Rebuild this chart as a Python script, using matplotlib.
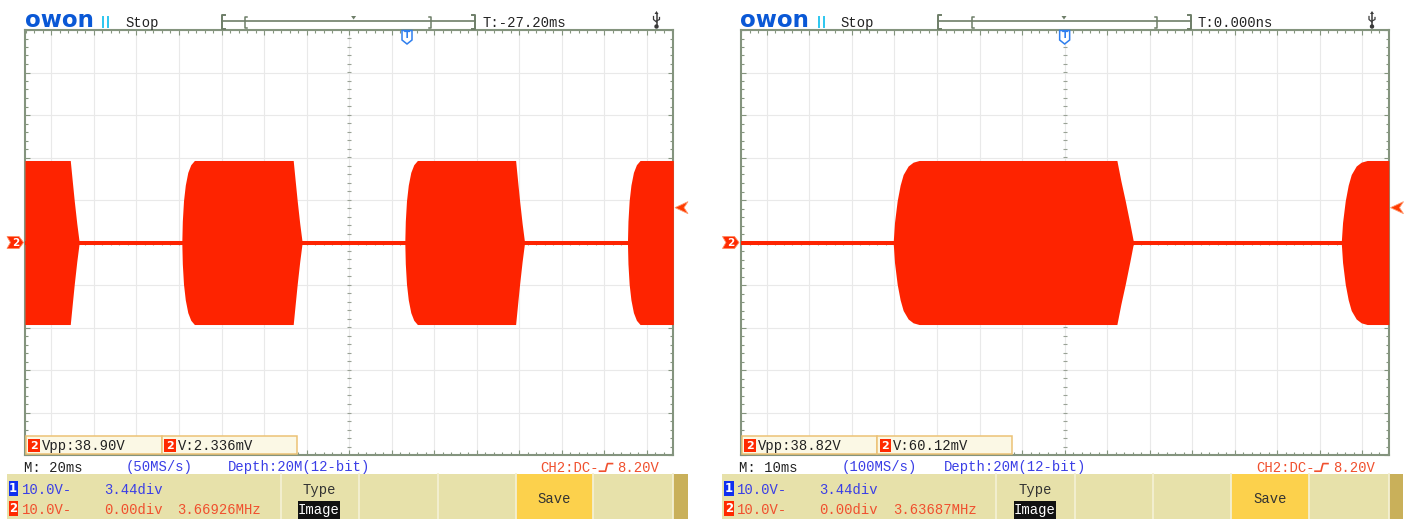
import numpy as np
import matplotlib
matplotlib.use('Agg')
import matplotlib.pyplot as plt
from matplotlib.patches import Rectangle, Polygon, Circle
from matplotlib.ticker import MultipleLocator

# ------------------------------------------------------------------ data
time_base = ['M: 20ms', 'M: 10ms']
sample_rate = ['(50MS/s)', '(100MS/s)']
depth_label = 'Depth:20M(12-bit)'
trig_time = ['T:-27.20ms', 'T:0.000ns']
trig_pos_div = [1.36, 0.0]          # trigger point, divisions from centre
trig_level_V = 8.20
volts_per_div = 10.0
ch2_offset_div = 0.0
ch1_scale = '10.0V-'
ch2_scale = '10.0V-'
ch1_offset = '3.44div'
ch2_offset = '0.00div'
ch2_freq = ['3.66926MHz', '3.63687MHz']
vpp_text = ['Vpp:38.90V', 'Vpp:38.82V']
vmean_text = ['V:2.336mV', 'V:60.12mV']
trig_info = 'CH2:DC-'
trig_level_text = '8.20V'

# burst envelopes (x in divisions, half amplitude in divisions)
left_burst_x = [
    [-7.62, -6.556, -6.509, -6.462, -6.403, -6.345],
    [-3.934, -3.922, -3.894, -3.852, -3.793, -3.723, -3.638,
     -1.315, -1.268, -1.221, -1.162, -1.104],
    [1.308, 1.320, 1.348, 1.390, 1.449, 1.519, 1.604,
     3.913, 3.960, 4.007, 4.066, 4.124],
    [6.542, 6.554, 6.582, 6.624, 6.683, 6.753, 6.838, 7.62],
]
left_burst_amp = [
    [1.93, 1.93, 1.45, 0.98, 0.45, 0.0],
    [0.0, 0.50, 0.98, 1.35, 1.65, 1.83, 1.93, 1.93, 1.45, 0.98, 0.45, 0.0],
    [0.0, 0.50, 0.98, 1.35, 1.65, 1.83, 1.93, 1.93, 1.45, 0.98, 0.45, 0.0],
    [0.0, 0.50, 0.98, 1.35, 1.65, 1.83, 1.93, 1.93],
]
right_burst_x = [
    [-4.031, -4.000, -3.937, -3.867, -3.796, -3.679, -3.562, -3.421,
     1.228, 1.322, 1.425, 1.533, 1.620],
    [6.502, 6.533, 6.596, 6.666, 6.737, 6.854, 6.971, 7.112, 7.62],
]
right_burst_amp = [
    [0.0, 0.47, 0.98, 1.35, 1.60, 1.80, 1.89, 1.93, 1.93, 1.45, 0.98, 0.45, 0.0],
    [0.0, 0.47, 0.98, 1.35, 1.60, 1.80, 1.89, 1.93, 1.93],
]
bursts_x = [left_burst_x, right_burst_x]
bursts_amp = [left_burst_amp, right_burst_amp]

# header window bracket positions (pixels within a screen)
inner_bracket = [(244.6, 431.0), (256.1, 441.5)]
window_dot = [353.6, 348.5]

# ------------------------------------------------------------------ style
W, H, DPI = 1407, 519, 100
MONO = 'Liberation Mono'
TRACE = '#fe2300'
FRAME = '#84947e'
GRID = '#e9e9e9'
BLUE_TXT = '#3a3ee6'
RED_TXT = '#f0502e'
DARK = '#222222'
KHAKI = '#e7e1aa'
SAVE = '#fcd14c'
GOLD = '#c9b05a'

fig = plt.figure(figsize=(W / DPI, H / DPI), dpi=DPI)
fig.patch.set_facecolor('white')
ov = fig.add_axes([0, 0, 1, 1], zorder=5)
ov.set_xlim(0, W)
ov.set_ylim(H, 0)
ov.axis('off')
ov.patch.set_alpha(0)

FR_T, FR_W, FR_H = 30.0, 648.3, 425.0
XR = 7.62
offsets = [0.0, 715.5]
frame_left = [25.0, 740.5]
ppd_x = FR_W / (2 * XR)
ppd_y = FR_H / 10.0


def ypx(div):
    return FR_T + FR_H / 2 - div * ppd_y


for s in range(2):
    dx = offsets[s]
    x0 = frame_left[s]
    ax = fig.add_axes([x0 / W, 1 - (FR_T + FR_H) / H, FR_W / W, FR_H / H], zorder=2)
    ax.set_xlim(-XR, XR)
    ax.set_ylim(-5, 5)
    ax.xaxis.set_major_locator(MultipleLocator(1))
    ax.yaxis.set_major_locator(MultipleLocator(1))
    ax.xaxis.set_minor_locator(MultipleLocator(0.2))
    ax.yaxis.set_minor_locator(MultipleLocator(0.2))
    ax.grid(which='major', color=GRID, lw=0.8, zorder=0)
    ax.tick_params(which='both', direction='in', top=True, right=True,
                   labelbottom=False, labelleft=False, color=FRAME, width=0.8)
    ax.tick_params(which='major', length=3.5)
    ax.tick_params(which='minor', length=2.4)
    for sp in ax.spines.values():
        sp.set_color(FRAME)
        sp.set_linewidth(1.5)
    ax.set_axisbelow(True)
    # centre line dashes
    yy = np.arange(-5, 5.01, 0.2)
    xx = np.arange(-7.6, 7.61, 0.2)
    ax.plot(np.zeros_like(yy), yy, ls='none', marker='_', ms=3.2, mew=0.8,
            color='#9aa296', zorder=1)
    ax.plot(xx, np.zeros_like(xx), ls='none', marker='|', ms=3.2, mew=0.8,
            color='#9aa296', zorder=1)
    # trace
    ax.plot([-XR, XR], [ch2_offset_div, ch2_offset_div], color=TRACE, lw=2.9,
            solid_capstyle='butt', zorder=3)
    for bx, ba in zip(bursts_x[s], bursts_amp[s]):
        bx = np.array(bx)
        ba = np.array(ba)
        ax.fill_between(bx, ch2_offset_div - ba, ch2_offset_div + ba,
                        color=TRACE, lw=0, zorder=3)

    cx = x0 + FR_W / 2
    # ---------------- header
    ov.text(dx + 24.5, 27, 'owon', fontsize=16.5, fontweight='bold',
            color='#0a58d6', family='DejaVu Sans', va='baseline')
    for bxp in (103, 108):
        ov.plot([dx + bxp, dx + bxp], [16.5, 26.5], color='#2cc6ef', lw=1.4)
    ov.text(dx + 125, 26.5, 'Stop', fontsize=10, family=MONO, color=DARK,
            va='baseline')
    bc = '#6e7e68'
    b0, b1 = dx + 222, dx + 475
    ov.plot([b0 + 3, b0, b0, b0 + 3], [15, 15, 29, 29], color=bc, lw=1.4)
    ov.plot([b1 - 3, b1, b1, b1 - 3], [15, 15, 29, 29], color=bc, lw=1.4)
    ov.plot([b0, b1], [20.7, 20.7], color=bc, lw=1.2)
    i0, i1 = dx + inner_bracket[s][0], dx + inner_bracket[s][1]
    ov.plot([i0 + 2, i0, i0, i0 + 2], [16.5, 16.5, 27.5, 27.5], color=bc, lw=1.1)
    ov.plot([i1 - 2, i1, i1, i1 - 2], [16.5, 16.5, 27.5, 27.5], color=bc, lw=1.1)
    dxp = dx + window_dot[s]
    ov.add_patch(Polygon([(dxp - 2.5, 16), (dxp + 2.5, 16), (dxp, 19.5)],
                         closed=True, color=bc, lw=0))
    ov.text(dx + 482.5, 26.7, trig_time[s], fontsize=10, family=MONO,
            color=DARK, va='baseline')
    ux = dx + 656.5
    ov.plot([ux, ux], [13.5, 26], color='#3a3a3a', lw=1.1)
    ov.add_patch(Polygon([(ux - 2, 14), (ux + 2, 14), (ux, 11)], closed=True,
                         color='#3a3a3a', lw=0))
    ov.plot([ux - 3, ux - 3, ux], [16.5, 19.5, 22], color='#3a3a3a', lw=0.9)
    ov.plot([ux + 3, ux + 3, ux], [17.5, 19.5, 21], color='#3a3a3a', lw=0.9)
    ov.add_patch(Circle((ux, 26.5), 1.5, color='#3a3a3a'))

    # ---------------- markers
    tx = cx + trig_pos_div[s] * ppd_x
    ov.add_patch(Polygon([(tx - 5, 30.5), (tx + 5, 30.5), (tx + 5, 40), (tx, 44),
                          (tx - 5, 40)], closed=True, facecolor='white',
                         edgecolor='#2f7fee', lw=1.1))
    ov.text(tx, 36, 'T', fontsize=6.5, fontweight='bold', color='#2f7fee',
            ha='center', va='center', family='DejaVu Sans')
    yc = ypx(ch2_offset_div)
    ov.add_patch(Polygon([(dx + 7, yc - 6), (dx + 19, yc - 6), (dx + 23.5, yc),
                          (dx + 19, yc + 6), (dx + 7, yc + 6), (dx + 10.5, yc)],
                         closed=True, facecolor='#ff2a00', edgecolor='#ff8a60', lw=0.6))
    ov.text(dx + 15.5, yc + 0.3, '2', fontsize=7.5, fontweight='bold', color='white',
            ha='center', va='center', family='DejaVu Sans')
    yt = ypx(trig_level_V / volts_per_div)
    ov.add_patch(Polygon([(dx + 675, yt), (dx + 688, yt - 6), (dx + 684, yt),
                          (dx + 688, yt + 6)], closed=True,
                         facecolor='#ff3a00', edgecolor='#ff9a70', lw=0.6))

    # ---------------- measurement boxes
    for (bx0, bx1, txt) in ((dx + 26, dx + 161.7, vpp_text[s]),
                            (dx + 161.7, dx + 296.7, vmean_text[s])):
        ov.add_patch(Rectangle((bx0, 436), bx1 - bx0, 17.5, facecolor='#fbf8e5',
                               edgecolor='#ecc275', lw=1.1))
        ov.add_patch(Rectangle((bx0 + 2.3, 439.3), 11.7, 12.4, facecolor='#ff2a00',
                               lw=0))
        ov.text(bx0 + 8.2, 445.8, '2', fontsize=8, fontweight='bold', color='white',
                ha='center', va='center', family='DejaVu Sans')
        ov.text(bx0 + 16, 450, txt, fontsize=10, family=MONO, color=DARK,
                va='baseline')

    # ---------------- status line
    ov.text(dx + 23.5, 471.5, time_base[s], fontsize=10, family=MONO, color=DARK,
            va='baseline')
    ov.text(dx + 126, 471.5, sample_rate[s], fontsize=10, family=MONO,
            color=BLUE_TXT, va='baseline')
    ov.text(dx + 228, 471.5, depth_label, fontsize=10, family=MONO,
            color=BLUE_TXT, va='baseline')
    ov.text(dx + 540.5, 471.5, trig_info, fontsize=10, family=MONO, color=RED_TXT,
            va='baseline')
    ov.plot([dx + 599.5, dx + 605.5, dx + 606.5, dx + 607.5, dx + 612.5],
            [471.2, 471.2, 467, 463.6, 463.6], color=RED_TXT, lw=1.2)
    ov.text(dx + 617.3, 471.5, trig_level_text, fontsize=10, family=MONO,
            color=RED_TXT, va='baseline')

    # ---------------- bottom panel
    ov.add_patch(Rectangle((dx + 6.5, 474), 666.8, 45, facecolor=KHAKI, lw=0))
    ov.add_patch(Rectangle((dx + 515.6, 474), 77.6, 45, facecolor=SAVE, lw=0))
    ov.add_patch(Rectangle((dx + 673.3, 474), 14.4, 45, facecolor=GOLD, lw=0))
    for xd in (280.5, 359.4, 437.5, 515.6, 593.3, 673.3):
        ov.plot([dx + xd, dx + xd], [474, 519], color='#f4f0d2', lw=1.3)
    ov.add_patch(Rectangle((dx + 8.5, 480.5), 9.5, 15, facecolor='#1030f0', lw=0))
    ov.text(dx + 13.2, 488.3, '1', fontsize=8.5, fontweight='bold', color='white',
            ha='center', va='center', family='DejaVu Sans')
    ov.add_patch(Rectangle((dx + 8.5, 500.5), 9.5, 15, facecolor='#ff2a00', lw=0))
    ov.text(dx + 13.2, 508.3, '2', fontsize=8.5, fontweight='bold', color='white',
            ha='center', va='center', family='DejaVu Sans')
    ov.text(dx + 21.5, 494, ch1_scale, fontsize=10, family=MONO, color=BLUE_TXT,
            va='baseline')
    ov.text(dx + 104, 494, ch1_offset, fontsize=10, family=MONO, color=BLUE_TXT,
            va='baseline')
    ov.text(dx + 21.5, 514, ch2_scale, fontsize=10, family=MONO, color=RED_TXT,
            va='baseline')
    ov.text(dx + 104, 514, ch2_offset, fontsize=10, family=MONO, color=RED_TXT,
            va='baseline')
    ov.text(dx + 177.5, 514, ch2_freq[s], fontsize=10, family=MONO, color=RED_TXT,
            va='baseline')
    ov.text(dx + 319.5, 494, 'Type', fontsize=10, family=MONO, color='#333333',
            ha='center', va='baseline')
    ov.add_patch(Rectangle((dx + 298, 501), 42, 18, facecolor='#111111', lw=0))
    ov.text(dx + 319, 514, 'Image', fontsize=10, family=MONO, color='white',
            ha='center', va='baseline')
    ov.text(dx + 554.4, 503, 'Save', fontsize=10, family=MONO, color='#333333',
            ha='center', va='baseline')

fig.savefig('out.png', dpi=DPI, facecolor='white')
